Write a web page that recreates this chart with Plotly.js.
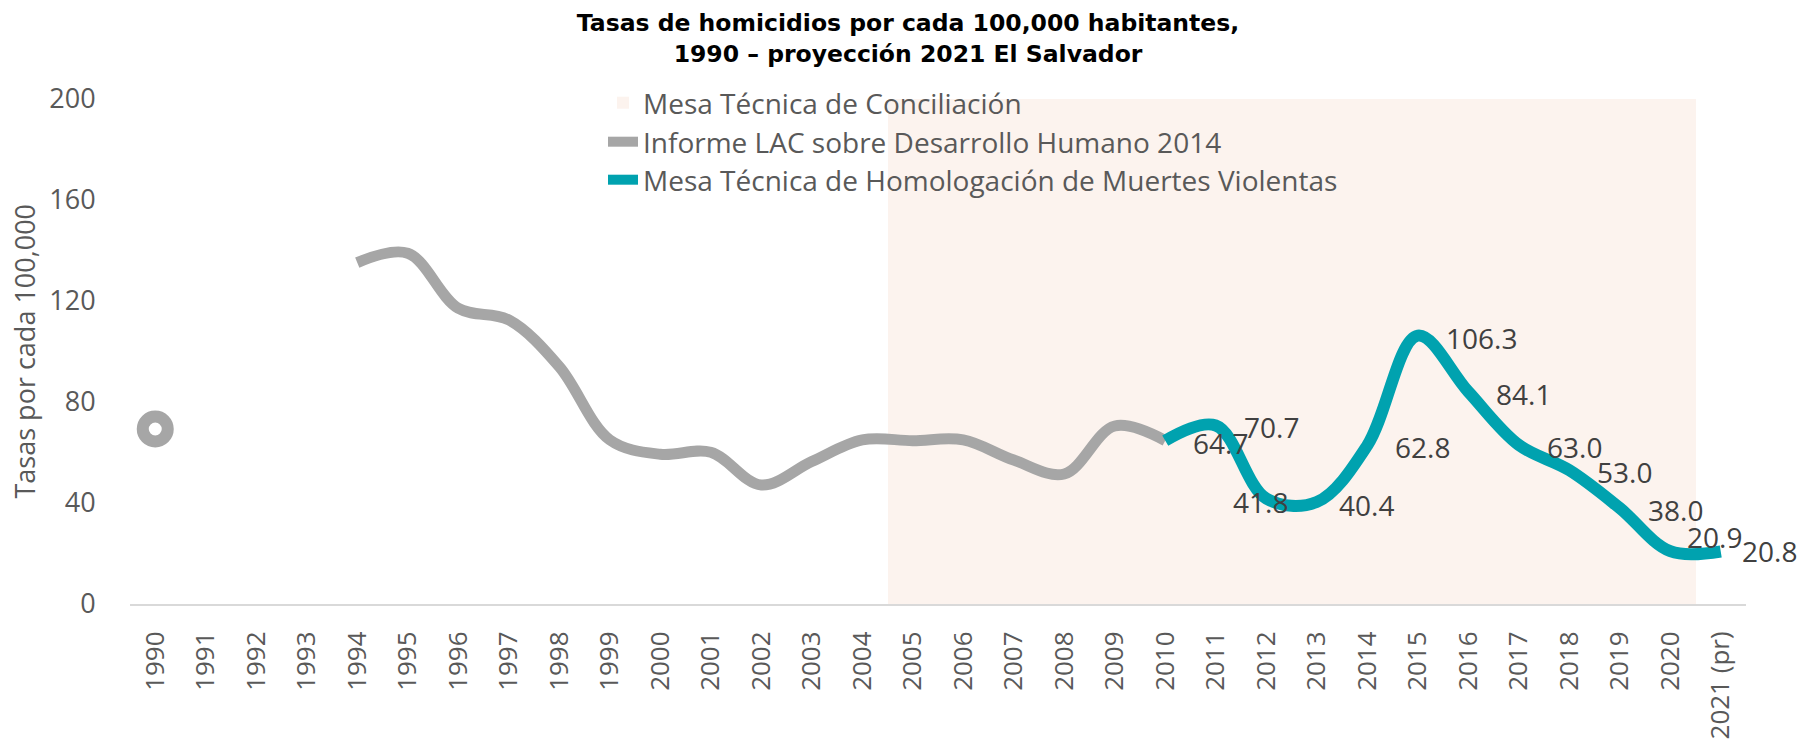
<!DOCTYPE html>
<html>
<head>
<meta charset="utf-8">
<script src="https://cdn.plot.ly/plotly-3.0.1.min.js"></script>
<style>
  html, body { margin: 0; padding: 0; background: #ffffff; }
  #chart { width: 1800px; height: 742px; }
</style>
</head>
<body>
<div id="chart"></div>
<script>
// ---- Data ----
const categories = ['1990','1991','1992','1993','1994','1995','1996','1997','1998','1999',
  '2000','2001','2002','2003','2004','2005','2006','2007','2008','2009',
  '2010','2011','2012','2013','2014','2015','2016','2017','2018','2019','2020','2021 (pr)'];

// Mesa Técnica de Conciliación (shaded period, column series at 200)
const conciliacion = [null,null,null,null,null,null,null,null,null,null,
  null,null,null,null,null,200,200,200,200,200,
  200,200,200,200,200,200,200,200,200,200,200,null];

// Informe LAC sobre Desarrollo Humano 2014
const informeLAC = [69.3,null,null,null,135.2,138.9,117.1,112.5,94.0,65.0,
  59.3,60.1,47.1,56.4,65.0,64.7,65.0,57.0,51.5,70.5,
  64.7,null,null,null,null,null,null,null,null,null,null,null];

// Mesa Técnica de Homologación de Muertes Violentas
const homologacion = [null,null,null,null,null,null,null,null,null,null,
  null,null,null,null,null,null,null,null,null,null,
  64.7,70.7,41.8,40.4,62.8,106.3,84.1,63.0,53.0,38.0,20.9,20.8];

const seriesNames = ['Mesa Técnica de Conciliación',
  'Informe LAC sobre Desarrollo Humano 2014',
  'Mesa Técnica de Homologación de Muertes Violentas'];

const yTicks = [0, 40, 80, 120, 160, 200];
const yTitle = 'Tasas por cada 100,000';

// ---- Styles ----
const FONT = '"Open Sans", Lato, sans-serif';
const TITLE_FONT = '"DejaVu Sans", "Liberation Sans", Arial, sans-serif';
const C_SHADE = '#FCF3EE';
const C_GRAY = '#A6A6A6';
const C_TEAL = '#00A2AF';
const C_TEXT = '#595959';
const C_LABEL = '#404040';
const W = 1800, H = 742;
const M = {l: 130, r: 54, t: 99, b: 138};

// label placement tweaks (pixels) for data labels of the homologación series
const labelPlacement = {
  '2012': {xanchor: 'center', xshift: -6, yshift: -4},
  '2013': {xshift: 20, yshift: -3},
  '2020': {xshift: 15, yshift: 14},
  '2021 (pr)': {xshift: 19, yshift: 0}
};

// isolated points of the LAC series (no neighbours) shown as a ring marker
const isoX = [], isoY = [];
informeLAC.forEach((v, i) => {
  if (v !== null && (i === 0 || informeLAC[i-1] === null) && (i === informeLAC.length-1 || informeLAC[i+1] === null)) {
    isoX.push(categories[i]); isoY.push(v);
  }
});

const traces = [
  {
    type: 'bar', name: seriesNames[0], x: categories, y: conciliacion,
    width: 1, marker: {color: C_SHADE, line: {width: 0}},
    legend: 'legend', hoverinfo: 'skip'
  },
  {
    type: 'scatter', mode: 'lines', name: seriesNames[1], x: categories, y: informeLAC,
    line: {color: C_GRAY, width: 11, shape: 'spline', smoothing: 1},
    connectgaps: false, legend: 'legend2', legendgroup: 'lac', hoverinfo: 'skip'
  },
  {
    type: 'scatter', mode: 'markers', name: seriesNames[1], x: isoX, y: isoY,
    marker: {symbol: 'circle', size: 25, color: '#ffffff', line: {color: C_GRAY, width: 12}},
    showlegend: false, legendgroup: 'lac', legend: 'legend2', hoverinfo: 'skip'
  },
  {
    type: 'scatter', mode: 'lines', name: seriesNames[2], x: categories, y: homologacion,
    line: {color: C_TEAL, width: 12, shape: 'spline', smoothing: 1},
    connectgaps: false, legend: 'legend3', hoverinfo: 'skip'
  }
];

const annotations = [];
homologacion.forEach((v, i) => {
  if (v === null) return;
  const p = labelPlacement[categories[i]] || {};
  annotations.push({
    x: i, y: v, xref: 'x', yref: 'y',   // x = category index on the category axis
    text: v.toFixed(1), showarrow: false,
    xanchor: p.xanchor || 'left', yanchor: 'middle',
    xshift: p.xshift !== undefined ? p.xshift : 26,
    yshift: p.yshift !== undefined ? p.yshift : -2,
    font: {family: FONT, size: 28, color: C_LABEL}
  });
});
// y-axis title
annotations.push({
  xref: 'paper', yref: 'paper',
  x: (24 - M.l) / (W - M.l - M.r), y: 0.5,
  xanchor: 'center', yanchor: 'middle', textangle: -90,
  text: yTitle, showarrow: false,
  font: {family: FONT, size: 27, color: C_TEXT}
});

function legendAt(ypx) {
  return {
    x: 603 / W, xref: 'container', xanchor: 'left',
    y: 1 - ypx / H, yref: 'container', yanchor: 'middle',
    bgcolor: 'rgba(0,0,0,0)', borderwidth: 0,
    font: {family: FONT, size: 28, color: C_TEXT},
    itemwidth: 30
  };
}

const layout = {
  width: W, height: H,
  paper_bgcolor: '#ffffff', plot_bgcolor: 'rgba(0,0,0,0)',
  margin: {l: M.l, r: M.r, t: M.t, b: M.b, autoexpand: false},
  title: {
    text: '<b>Tasas de homicidios por cada 100,000 habitantes,<br>1990 – proyección 2021 El Salvador</b>',
    font: {family: TITLE_FONT, size: 23.5, color: '#000000'},
    x: 908 / W, xref: 'container', xanchor: 'center',
    y: 1 - 31 / H, yref: 'container', yanchor: 'middle'
  },
  showlegend: true,
  legend: legendAt(103),
  legend2: legendAt(142),
  legend3: legendAt(180),
  bargap: 0,
  xaxis: {
    type: 'category', categoryorder: 'array', categoryarray: categories,
    range: [-0.5, categories.length - 0.5],
    showline: true, linecolor: '#D9D9D9', linewidth: 2,
    showgrid: false, zeroline: false,
    ticks: 'outside', ticklen: 15, tickcolor: 'rgba(0,0,0,0)',
    tickangle: -90,
    tickfont: {family: FONT, size: 26, color: C_TEXT},
    fixedrange: true
  },
  yaxis: {
    range: [0, 200], tickmode: 'array', tickvals: yTicks, ticktext: yTicks.map(String),
    showline: false, showgrid: false, zeroline: false,
    ticks: 'outside', ticklen: 28, tickcolor: 'rgba(0,0,0,0)',
    tickfont: {family: FONT, size: 27, color: C_TEXT},
    fixedrange: true
  },
  annotations: annotations
};

Plotly.newPlot('chart', traces, layout, {displayModeBar: false, staticPlot: true});
</script>
</body>
</html>
